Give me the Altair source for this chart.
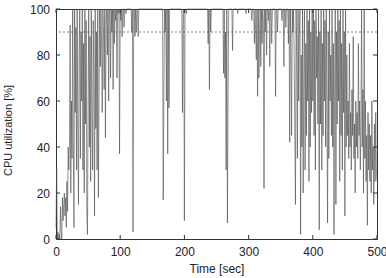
import altair as alt
import pandas as pd

# CPU utilization (%) per second
cpu_000 = [5, 31, 0, 3, 0, 2, 0, 14, 3, 0,
           18, 8, 15, 20, 10, 18, 5, 25, 12, 40,
           30, 42, 93, 20, 60, 35, 100, 40, 5, 100,
           55, 92, 30, 100, 45, 15, 80, 100, 35, 90,
           60, 100, 30, 85, 20, 100, 50, 95, 10, 2,
           60, 100, 40, 88, 25, 100, 55, 30, 95, 70,
           10, 100, 48, 90, 30, 100, 18, 60, 100, 75,
           100, 85, 55, 100, 90, 65, 100, 44, 95, 100,
           80, 100, 60, 98, 100, 70, 100, 90, 100, 65,
           100, 85, 100, 95, 100, 70, 100, 98, 100, 37]
cpu_100 = [100, 95, 100, 88, 100, 100, 92, 100, 100, 98,
           100, 100, 100, 100, 100, 100, 100, 100, 90, 100,
           3, 100, 100, 88, 100, 90, 100, 100, 88, 100,
           100, 100, 100, 100, 100, 100, 100, 100, 100, 100,
           100, 100, 100, 100, 100, 100, 100, 100, 100, 100,
           100, 100, 100, 100, 100, 100, 100, 100, 100, 100,
           100, 100, 100, 100, 100, 100, 100, 17, 60, 100,
           90, 100, 60, 100, 37, 100, 57, 100, 100, 100,
           100, 100, 100, 100, 100, 100, 100, 100, 100, 100,
           100, 100, 100, 100, 100, 100, 98, 55, 100, 100]
cpu_200 = [8, 100, 100, 98, 100, 100, 100, 100, 100, 100,
           100, 100, 100, 100, 100, 100, 100, 100, 100, 100,
           100, 100, 100, 100, 100, 100, 100, 100, 100, 100,
           100, 100, 100, 100, 100, 100, 100, 85, 100, 65,
           100, 90, 100, 100, 100, 100, 100, 100, 100, 100,
           100, 100, 100, 100, 100, 100, 100, 100, 100, 100,
           100, 72, 100, 70, 90, 30, 100, 7, 60, 100,
           100, 100, 100, 100, 100, 82, 100, 100, 100, 100,
           100, 100, 100, 98, 100, 100, 100, 100, 100, 100,
           100, 100, 100, 100, 100, 100, 98, 100, 100, 100]
cpu_300 = [100, 100, 100, 100, 100, 95, 100, 100, 100, 85,
           100, 90, 78, 100, 62, 100, 70, 88, 100, 75,
           100, 85, 100, 95, 22, 100, 90, 100, 80, 100,
           100, 95, 100, 75, 100, 100, 85, 100, 100, 100,
           100, 100, 62, 100, 100, 90, 100, 100, 100, 100,
           100, 100, 95, 100, 100, 75, 100, 100, 92, 100,
           100, 100, 85, 100, 42, 100, 80, 45, 100, 90,
           100, 80, 45, 15, 100, 78, 35, 100, 60, 90,
           100, 2, 80, 40, 100, 20, 70, 100, 30, 85,
           45, 100, 60, 95, 25, 100, 40, 90, 55, 100]
cpu_400 = [60, 100, 45, 95, 30, 100, 70, 88, 50, 100,
           4, 90, 50, 100, 30, 85, 45, 100, 60, 95,
           40, 100, 55, 7, 90, 35, 100, 60, 80, 45,
           100, 40, 85, 2, 70, 100, 15, 90, 50, 100,
           60, 95, 25, 100, 45, 85, 30, 100, 55, 90,
           10, 100, 40, 80, 45, 60, 35, 85, 40, 55,
           30, 65, 45, 88, 35, 50, 20, 60, 40, 55,
           35, 85, 45, 60, 30, 50, 100, 40, 65, 20,
           100, 35, 60, 25, 45, 6, 55, 30, 50, 25,
           45, 20, 60, 30, 40, 15, 50, 25, 55, 30, 25]

cpu = cpu_000 + cpu_100 + cpu_200 + cpu_300 + cpu_400
time = list(range(len(cpu)))

x_ticks = [0, 100, 200, 300, 400, 500]
y_ticks = [0, 20, 40, 60, 80, 100]
threshold = [90]

df = pd.DataFrame({"time": time, "cpu": cpu})
xt = pd.DataFrame({"time": x_ticks})
yt = pd.DataFrame({"cpu": y_ticks})
th = pd.DataFrame({"cpu": threshold})

FONT = "Liberation Sans"
TXT = "#222222"
W, H = 321, 230

xscale = alt.Scale(domain=[0, 500], nice=False, zero=False)
yscale = alt.Scale(domain=[0, 100], nice=False, zero=False)

xaxis = alt.Axis(values=x_ticks, title="Time [sec]", tickSize=0, domain=False,
                 grid=False, labelPadding=7, labelFontSize=12, labelFont=FONT,
                 labelColor=TXT, labelFlush=False, labelOverlap=False,
                 titleFont=FONT, titleFontSize=12,
                 titleFontWeight="normal", titleColor=TXT,
                 titleY=29, titleBaseline="middle")
yaxis = alt.Axis(values=y_ticks, title="CPU utilization [%]", tickSize=0,
                 domain=False, grid=False, labelPadding=6.5, labelFontSize=12,
                 labelFont=FONT, labelColor=TXT, labelFlush=False, labelOverlap=False,
                 titleFont=FONT, titleFontSize=11,
                 titleFontWeight="normal", titleColor=TXT,
                 titleX=-48, titleY=121, titleBaseline="middle")

X = alt.X("time:Q", scale=xscale, axis=xaxis)
Y = alt.Y("cpu:Q", scale=yscale, axis=yaxis)

line = alt.Chart(df).mark_line(color="#4a4a4a", strokeWidth=0.6).encode(x=X, y=Y)

thr = alt.Chart(th).mark_rule(color="#666666", strokeWidth=0.8, strokeDash=[2, 2]).encode(y=Y)

tick_style = dict(color="#333333", strokeWidth=1)
bt = alt.Chart(xt).mark_rule(**tick_style).encode(x=X, y=alt.value(H), y2=alt.value(H - 4))
tt = alt.Chart(xt).mark_rule(**tick_style).encode(x=X, y=alt.value(0), y2=alt.value(4))
lt = alt.Chart(yt).mark_rule(**tick_style).encode(y=Y, x=alt.value(0), x2=alt.value(4))
rt = alt.Chart(yt).mark_rule(**tick_style).encode(y=Y, x=alt.value(W), x2=alt.value(W - 4))

chart = alt.layer(line, thr, bt, tt, lt, rt).properties(
    width=W, height=H,
    autosize=alt.AutoSizeParams(type="none"),
    padding={"left": 56, "top": 9, "right": 9, "bottom": 39},
    background="white",
).configure_view(stroke="#333333", strokeWidth=1)

chart.save("out.html", embed_options={"renderer": "svg", "actions": False})
